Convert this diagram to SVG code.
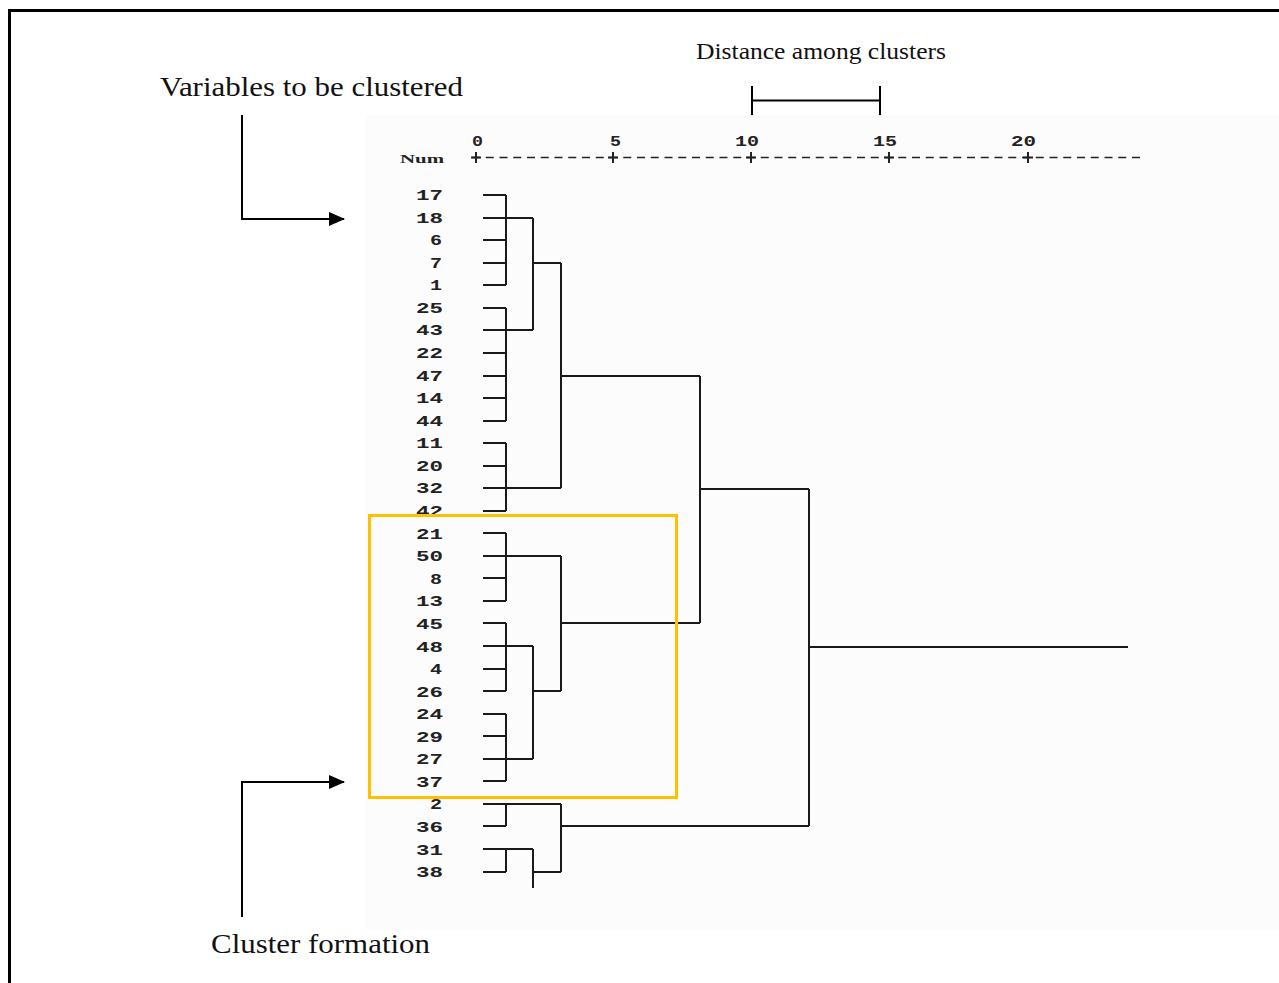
<svg xmlns="http://www.w3.org/2000/svg" width="1279" height="983" viewBox="0 0 1279 983">
<defs>
<style>
.frame{stroke:#000;stroke-width:3;fill:none}
.d{stroke:#1a1a1a;stroke-width:2;fill:none}
.lbl{font-family:"Liberation Mono",monospace;font-size:15px;font-weight:bold;fill:#222}
.ax{font-family:"Liberation Mono",monospace;font-size:15px;font-weight:bold;fill:#222}
.ann{font-family:"Liberation Serif",serif;fill:#111}
.arr{stroke:#000;stroke-width:2;fill:none}
</style>
<marker id="ah" markerWidth="16" markerHeight="14" refX="15" refY="7" orient="auto" markerUnits="userSpaceOnUse">
<path d="M0,0 L16,7 L0,14 Z" fill="#000"/>
</marker>
</defs>
<rect x="0" y="0" width="1279" height="983" fill="#fff"/>
<rect x="366" y="115" width="913" height="815" fill="#fcfcfc"/>
<path class="frame" d="M9.5,983 V10.5 H1279"/>

<g id="annotations">
<text class="ann" x="160" y="96" font-size="28" textLength="303" lengthAdjust="spacingAndGlyphs">Variables to be clustered</text>
<text class="ann" x="696" y="59" font-size="23" textLength="250" lengthAdjust="spacingAndGlyphs">Distance among clusters</text>
<text class="ann" x="211" y="953" font-size="28" textLength="219" lengthAdjust="spacingAndGlyphs">Cluster formation</text>
<path class="arr" d="M752,86 V115 M880,86 V115 M752,100.5 H880"/>
</g>

<g id="axis">
<text x="400" y="163" font-family="Liberation Serif, serif" font-size="13" font-weight="bold" fill="#222" textLength="44" lengthAdjust="spacingAndGlyphs">Num</text>
<text class="ax" x="472" y="146" textLength="11" lengthAdjust="spacingAndGlyphs">0</text>
<text class="ax" x="610" y="146" textLength="11" lengthAdjust="spacingAndGlyphs">5</text>
<text class="ax" x="735" y="146" textLength="24" lengthAdjust="spacingAndGlyphs">10</text>
<text class="ax" x="873" y="146" textLength="24" lengthAdjust="spacingAndGlyphs">15</text>
<text class="ax" x="1011" y="146" textLength="25" lengthAdjust="spacingAndGlyphs">20</text>
<path d="M472,157.5 H1145" stroke="#222" stroke-width="1.6" stroke-dasharray="8,5.75"/>
<path d="M476,152 V163 M613,152 V163 M751,152 V163 M889,152 V163 M1028,152 V163 M471,157.5 H481 M608,157.5 H618 M746,157.5 H756 M884,157.5 H894 M1023,157.5 H1033" stroke="#222" stroke-width="2"/>
</g>

<g id="labels" class="lbl" lengthAdjust="spacingAndGlyphs">
<text x="416" y="200" textLength="27" lengthAdjust="spacingAndGlyphs">17</text>
<text x="416" y="223" textLength="27" lengthAdjust="spacingAndGlyphs">18</text>
<text x="430" y="245" textLength="12" lengthAdjust="spacingAndGlyphs">6</text>
<text x="430" y="268" textLength="12" lengthAdjust="spacingAndGlyphs">7</text>
<text x="430" y="290" textLength="12" lengthAdjust="spacingAndGlyphs">1</text>
<text x="416" y="313" textLength="27" lengthAdjust="spacingAndGlyphs">25</text>
<text x="416" y="335" textLength="27" lengthAdjust="spacingAndGlyphs">43</text>
<text x="416" y="358" textLength="27" lengthAdjust="spacingAndGlyphs">22</text>
<text x="416" y="381" textLength="27" lengthAdjust="spacingAndGlyphs">47</text>
<text x="416" y="403" textLength="27" lengthAdjust="spacingAndGlyphs">14</text>
<text x="416" y="426" textLength="27" lengthAdjust="spacingAndGlyphs">44</text>
<text x="416" y="448" textLength="27" lengthAdjust="spacingAndGlyphs">11</text>
<text x="416" y="471" textLength="27" lengthAdjust="spacingAndGlyphs">20</text>
<text x="416" y="493" textLength="27" lengthAdjust="spacingAndGlyphs">32</text>
<text x="416" y="516" textLength="27" lengthAdjust="spacingAndGlyphs">42</text>
<text x="416" y="539" textLength="27" lengthAdjust="spacingAndGlyphs">21</text>
<text x="416" y="561" textLength="27" lengthAdjust="spacingAndGlyphs">50</text>
<text x="430" y="584" textLength="12" lengthAdjust="spacingAndGlyphs">8</text>
<text x="416" y="606" textLength="27" lengthAdjust="spacingAndGlyphs">13</text>
<text x="416" y="629" textLength="27" lengthAdjust="spacingAndGlyphs">45</text>
<text x="416" y="652" textLength="27" lengthAdjust="spacingAndGlyphs">48</text>
<text x="430" y="674" textLength="12" lengthAdjust="spacingAndGlyphs">4</text>
<text x="416" y="697" textLength="27" lengthAdjust="spacingAndGlyphs">26</text>
<text x="416" y="719" textLength="27" lengthAdjust="spacingAndGlyphs">24</text>
<text x="416" y="742" textLength="27" lengthAdjust="spacingAndGlyphs">29</text>
<text x="416" y="764" textLength="27" lengthAdjust="spacingAndGlyphs">27</text>
<text x="416" y="787" textLength="27" lengthAdjust="spacingAndGlyphs">37</text>
<text x="430" y="809" textLength="12" lengthAdjust="spacingAndGlyphs">2</text>
<text x="416" y="832" textLength="27" lengthAdjust="spacingAndGlyphs">36</text>
<text x="416" y="855" textLength="27" lengthAdjust="spacingAndGlyphs">31</text>
<text x="416" y="877" textLength="27" lengthAdjust="spacingAndGlyphs">38</text>
</g>

<g id="connectors">
<path class="d" d="M483,195 H506 M483,218 H506 M483,240 H506 M483,263 H506 M483,285 H506 M506,195 V285 M506,218 H533"/>
<path class="d" d="M483,308 H506 M483,330 H506 M483,353 H506 M483,376 H506 M483,398 H506 M483,421 H506 M506,308 V421 M506,330 H533"/>
<path class="d" d="M533,218 V330 M533,263 H561"/>
<path class="d" d="M483,443 H506 M483,466 H506 M483,488 H506 M483,511 H506 M506,443 V511 M506,488 H561"/>
<path class="d" d="M561,263 V488 M561,376 H700"/>
<path class="d" d="M483,533 H506 M483,556 H506 M483,578 H506 M483,601 H506 M506,533 V601 M506,556 H561"/>
<path class="d" d="M483,623 H506 M483,646 H506 M483,669 H506 M483,691 H506 M506,623 V691 M506,646 H533"/>
<path class="d" d="M483,714 H506 M483,736 H506 M483,759 H506 M483,781 H506 M506,714 V781 M506,759 H533"/>
<path class="d" d="M533,646 V759 M533,691 H561"/>
<path class="d" d="M561,556 V691 M561,623 H700"/>
<path class="d" d="M700,376 V623 M700,489 H809"/>
<path class="d" d="M483,804 H561 M483,826 H506 M506,804 V826"/>
<path class="d" d="M483,849 H533 M483,872 H506 M506,849 V872 M533,849 V888 M533,872 H561"/>
<path class="d" d="M561,804 V872 M561,826 H809"/>
<path class="d" d="M809,489 V826 M809,647 H1128"/>
</g>

<g id="cluster-box">
<rect x="369.5" y="515.5" width="307" height="282" fill="none" stroke="#FFC000" stroke-width="3"/>
</g>

<g id="arrows">
<path class="arr" d="M242,115 V219 H344" marker-end="url(#ah)"/>
<path class="arr" d="M242,917 V782 H344" marker-end="url(#ah)"/>
</g>
</svg>
